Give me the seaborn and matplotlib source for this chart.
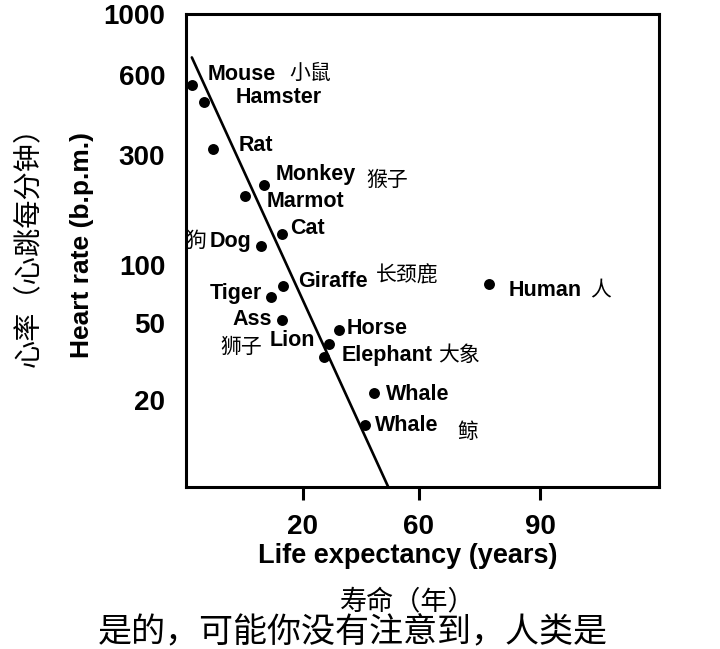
import numpy as np
import matplotlib
matplotlib.use("Agg")
import matplotlib.pyplot as plt
import seaborn as sns

# ---------------- data ----------------
animals = ["Mouse", "Hamster", "Rat", "Monkey", "Marmot", "Cat", "Dog",
           "Giraffe", "Tiger", "Ass", "Horse", "Lion", "Elephant",
           "Whale", "Whale", "Human"]
animals_cn = ["小鼠", "", "", "猴子", "", "", "狗",
              "长颈鹿", "", "", "", "狮子", "大象",
              "", "鲸", "人"]
life_years = [1.1, 3.0, 4.7, 13.4, 10.1, 16.4, 12.9,
              16.5, 14.5, 16.4, 32.5, 29.1, 27.2,
              44.5, 41.4, 77.4]
heart_rate = [550, 475, 315, 222, 199, 136, 121,
              78, 68, 52, 46, 39, 33.5,
              21.7, 14.8, 80]
trend_x = [1.0, 49.4]
trend_y = [695, 7.0]
y_ticks = [20, 50, 100, 300, 600, 1000]
x_ticks = [20, 60, 90]

# ---------------- hand-drawn axis scales ----------------
X_KNOT_VAL = [0, 20, 60, 90, 120]
X_KNOT_POS = [0, 117, 233, 354, 473]
Y_KNOT_LOG = [0.845, 1.301, 1.699, 2.0, 2.477, 2.778, 3.0]
Y_KNOT_POS = [0, 87, 164, 222, 332, 412, 473]


def pwl(v, xs, ys):
    v = np.asarray(v, float)
    xs = np.asarray(xs, float)
    ys = np.asarray(ys, float)
    out = np.interp(v, xs, ys)
    s0 = (ys[1] - ys[0]) / (xs[1] - xs[0])
    s1 = (ys[-1] - ys[-2]) / (xs[-1] - xs[-2])
    out = np.where(v < xs[0], ys[0] + (v - xs[0]) * s0, out)
    out = np.where(v > xs[-1], ys[-1] + (v - xs[-1]) * s1, out)
    return out


def x_fwd(v):
    return pwl(v, X_KNOT_VAL, X_KNOT_POS)


def x_inv(t):
    return pwl(t, X_KNOT_POS, X_KNOT_VAL)


def y_fwd(v):
    return pwl(np.log10(np.clip(np.asarray(v, float), 1e-6, None)), Y_KNOT_LOG, Y_KNOT_POS)


def y_inv(t):
    return 10 ** pwl(t, Y_KNOT_POS, Y_KNOT_LOG)


# ---------------- label layout (pixel offsets from dot) ----------------
en_dx = [15, 32, 25, 11, 22, 8, -10, 16, -9, -10, 7, -14, 18, 12, 10, 19]
en_dy = [11, 4, 4, 11, -5, 6, 4, 4, 4, 0, 2, 3, 1, -1, -1, -7]
cn_dx = [97, 0, 0, 102, 0, 0, -55, 93, 0, 0, 0, -67, 114, 0, 92, 101]
cn_dy = [12, 0, 0, 5, 0, 0, 5, 10, 0, 0, 0, -3, 2, 0, -7, -7]

sns.set_style("white")
plt.rcParams["font.family"] = ["Liberation Sans", "DejaVu Sans"]
plt.rcParams["text.color"] = "black"
plt.rcParams["axes.labelcolor"] = "black"
plt.rcParams["xtick.color"] = "black"
plt.rcParams["ytick.color"] = "black"
CJK = ["Noto Sans CJK SC", "DejaVu Sans"]

fig = plt.figure(figsize=(7.2, 6.49), dpi=100)
ax = fig.add_axes([186 / 720, 1 - 487 / 649, 473 / 720, 473 / 649])
ax.set_xscale("function", functions=(x_fwd, x_inv))
ax.set_yscale("function", functions=(y_fwd, y_inv))
ax.set_xlim(0, 120)
ax.set_ylim(7.0, 1000)

sns.lineplot(x=trend_x, y=trend_y, color="black", linewidth=1.9, ax=ax,
             sort=False, estimator=None)
sns.scatterplot(x=life_years, y=heart_rate, color="black", s=62,
                linewidth=0, ax=ax, zorder=3)

for i, name in enumerate(animals):
    ha = "right" if en_dx[i] < 0 else "left"
    ax.annotate(name, (life_years[i], heart_rate[i]),
                xytext=(en_dx[i], en_dy[i]), textcoords="offset pixels",
                ha=ha, va="center", fontsize=15.5, fontweight="bold",
                color="black")
    if animals_cn[i]:
        ha = "right" if cn_dx[i] < 0 else "left"
        ax.annotate(animals_cn[i], (life_years[i], heart_rate[i]),
                    xytext=(cn_dx[i], cn_dy[i]), textcoords="offset pixels",
                    ha=ha, va="center", fontsize=15, family=CJK,
                    color="black", annotation_clip=False)

for sp in ax.spines.values():
    sp.set_visible(True)
    sp.set_linewidth(2.2)
    sp.set_color("black")

ax.set_yticks(y_ticks)
ax.set_yticklabels([str(t) for t in y_ticks])
ax.set_xticks(x_ticks)
ax.set_xticklabels([str(t) for t in x_ticks])
ax.minorticks_off()
ax.tick_params(axis="y", length=0, pad=15, labelsize=20, labelcolor="black")
ax.tick_params(axis="x", length=9.5, width=2.2, direction="out", pad=10,
               labelsize=20, color="black", labelcolor="black", bottom=True)
for lab in ax.get_xticklabels() + ax.get_yticklabels():
    lab.set_fontweight("bold")

ax.set_xlabel("Life expectancy (years)", fontsize=19.5, fontweight="bold",
              color="black")
ax.xaxis.set_label_coords((408 - 186) / 473, (487 - 543) / 473)
ax.set_ylabel("Heart rate (b.p.m.)", fontsize=19, fontweight="bold",
              color="black")
ax.yaxis.set_label_coords((94 - 186) / 473, (487 - 245) / 473)

fig.text(408 / 720, 1 - 602 / 649, "寿命（年）", ha="center", va="center",
         fontsize=19.5, family=CJK, color="black")
fig.text(28 / 720, 1 - 240 / 649, "心率（心跳每分钟）", ha="center", va="center",
         rotation=90, fontsize=20.3, family=CJK, color="black")
fig.text(353 / 720, 1 - 633 / 649, "是的，可能你没有注意到，人类是", ha="center",
         va="center", fontsize=24.5, family=CJK, color="black")

fig.savefig("out.png", dpi=100)
